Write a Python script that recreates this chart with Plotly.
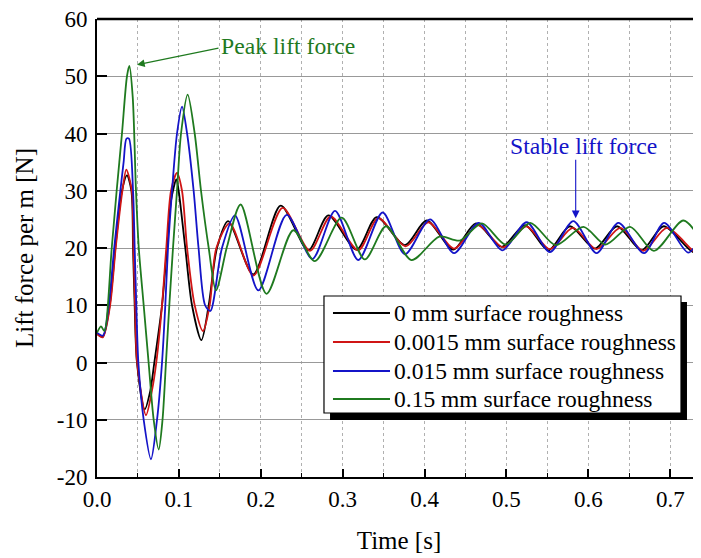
import plotly.graph_objects as go

# ---------------- data ----------------
series_names = ["0 mm surface roughness", "0.0015 mm surface roughness",
                "0.015 mm surface roughness", "0.15 mm surface roughness"]
series_colors = ["#000000", "#d01515", "#1414c8", "#1f7a1f"]

t_0mm = [0.000, 0.007, 0.0155, 0.0224, 0.0305, 0.0366, 0.042, 0.044, 0.046, 0.0488,
         0.0582, 0.065, 0.070, 0.0794, 0.0855, 0.0904, 0.097, 0.0997, 0.1078, 0.116,
         0.1274, 0.1364, 0.1465, 0.160, 0.1909, 0.2243, 0.258, 0.2824, 0.317, 0.3415,
         0.376, 0.4025, 0.435, 0.4627, 0.494, 0.5226, 0.551, 0.5775, 0.608, 0.635,
         0.665, 0.692, 0.728, 0.74]
f_0mm = [5.0, 4.5, 10, 20, 30, 32.7, 30, 20, 10, 0,
         -8.2, -5, 0, 10, 20, 28.3, 32.0, 30, 20, 10,
         3.9, 10, 20, 24.7, 15.4, 27.4, 19.6, 25.7, 19.7, 25.4,
         20.5, 24.8, 19.7, 24.3, 20.2, 24.0, 19.6, 23.8, 19.9, 23.8,
         19.6, 23.8, 19.3, 20.0]

t_00015mm = [0.000, 0.007, 0.016, 0.0228, 0.031, 0.0358, 0.0425, 0.0445, 0.0465, 0.049,
             0.0598, 0.067, 0.0724, 0.0794, 0.0846, 0.0904, 0.0977, 0.1038, 0.110, 0.1193,
             0.1294, 0.1376, 0.1457, 0.162, 0.191, 0.2267, 0.260, 0.2853, 0.319, 0.3435,
             0.377, 0.4045, 0.436, 0.465, 0.496, 0.524, 0.553, 0.581, 0.610, 0.639,
             0.667, 0.696, 0.732, 0.74]
f_00015mm = [5.0, 4.4, 10, 20, 30, 33.7, 30, 20, 10, 0,
             -9.2, -5, 0, 10, 20, 30, 33.1, 30, 20, 10,
             5.5, 10, 20, 24.3, 15.2, 27.0, 19.5, 25.5, 19.6, 25.2,
             20.3, 24.5, 19.9, 24.0, 20.1, 23.8, 19.8, 23.5, 19.8, 23.5,
             19.5, 23.5, 19.1, 19.4]

t_0015mm = [0.000, 0.0073, 0.0143, 0.021, 0.0285, 0.0325, 0.036, 0.039, 0.044, 0.046,
            0.048, 0.0505, 0.057, 0.0659, 0.0733, 0.0794, 0.0834, 0.0867, 0.0916, 0.0977,
            0.1038, 0.110, 0.118, 0.124, 0.132, 0.1384, 0.1526, 0.1685, 0.197, 0.2316,
            0.263, 0.2906, 0.319, 0.3488, 0.376, 0.4066, 0.436, 0.466, 0.495, 0.5246,
            0.553, 0.5816, 0.610, 0.6366, 0.668, 0.6925, 0.722, 0.74]
f_0015mm = [5.2, 4.7, 10, 20, 30, 35, 39.1, 39.1, 30, 20,
            10, 0, -10, -16.9, -10, 0, 10, 20, 30, 40,
            44.7, 40, 30, 20, 10, 9.0, 20, 25.7, 12.6, 25.8,
            18.1, 26.5, 17.9, 26.2, 18.9, 25.0, 19.1, 24.4, 19.6, 24.5,
            19.3, 24.7, 19.1, 24.4, 19.1, 24.4, 19.2, 22.8]

t_015mm = [0.000, 0.005, 0.009, 0.018, 0.024, 0.0305, 0.0366, 0.0395, 0.0436, 0.0476,
           0.051, 0.057, 0.063, 0.0692, 0.0753, 0.080, 0.0842, 0.0883, 0.0928, 0.0977,
           0.1026, 0.1107, 0.1193, 0.127, 0.1364, 0.1453, 0.1587, 0.1754, 0.207, 0.2397,
           0.266, 0.2988, 0.327, 0.353, 0.384, 0.418, 0.443, 0.470, 0.499, 0.529,
           0.560, 0.594, 0.621, 0.651, 0.680, 0.716, 0.74]
f_015mm = [5.2, 6.3, 5.5, 20, 30, 40, 50, 51.8, 46.4, 30,
           20, 10, 0, -10, -15.2, -10, 0, 10, 20, 30,
           40, 46.8, 40, 30, 20, 12.6, 20.2, 27.6, 12.0, 23.1,
           17.7, 25.3, 18.0, 23.8, 17.9, 22.0, 21.3, 24.3, 20.6, 24.4,
           20.5, 23.7, 20.6, 23.7, 19.5, 24.8, 20.8]

x_tick_vals = [0.0, 0.1, 0.2, 0.3, 0.4, 0.5, 0.6, 0.7]
x_tick_text = ["0.0", "0.1", "0.2", "0.3", "0.4", "0.5", "0.6", "0.7"]
y_tick_vals = [-20, -10, 0, 10, 20, 30, 40, 50, 60]
y_tick_text = ["-20", "-10", "0", "10", "20", "30", "40", "50", "60"]

peak_point = (0.0488, 52.0)
stable_point = (0.5845, 25.2)

# ---------------- figure ----------------
# (the page body adds an 8 px offset, so the figure is 8 px smaller on each axis)
FONT = "Liberation Serif, Times New Roman, serif"
fig = go.Figure()
all_t = [t_0mm, t_00015mm, t_0015mm, t_015mm]
all_f = [f_0mm, f_00015mm, f_0015mm, f_015mm]
for name, col, tt, ff in zip(series_names, series_colors, all_t, all_f):
    fig.add_trace(go.Scatter(x=tt, y=ff, mode="lines", name=name, showlegend=False,
                             line=dict(color=col, width=1.8, shape="spline", smoothing=0.8)))

fig.update_layout(
    width=693, height=550,
    margin=dict(l=89, r=0, t=11, b=81, autoexpand=False),
    paper_bgcolor="white", plot_bgcolor="white",
    font=dict(family=FONT, size=23, color="black"),
    showlegend=False,
    xaxis=dict(range=[0, 0.7375], tickvals=x_tick_vals, ticktext=x_tick_text,
               showgrid=False, zeroline=False, automargin=False,
               ticklabeloverflow="allow",
               showline=True, linecolor="black", linewidth=2,
               ticks="inside", ticklen=8, tickwidth=1.5, tickcolor="black",
               ticklabelstandoff=0,
               minor=dict(dtick=0.05, tick0=0, ticks="inside", ticklen=4, tickwidth=1.2,
                          tickcolor="black", showgrid=True, gridcolor="#b0b0b0",
                          griddash="dot", gridwidth=1),
               title=dict(text="Time [s]", font=dict(family=FONT, size=25), standoff=21)),
    yaxis=dict(range=[-20, 60], tickvals=y_tick_vals, ticktext=y_tick_text,
               showgrid=True, gridcolor="#999999", gridwidth=1.2, zeroline=False,
               automargin=False, ticklabeloverflow="allow",
               showline=True, linecolor="black", linewidth=2,
               ticks="inside", ticklen=10, tickwidth=1.5, tickcolor="black",
               ticklabelstandoff=3,
               title=dict(text="Lift force per m [N]", font=dict(family=FONT, size=25), standoff=16)),
)

# top frame line
fig.add_shape(type="line", xref="paper", yref="paper", x0=0, x1=1, y0=1, y1=1,
              line=dict(color="black", width=2.5))

# ---- legend box (drawn with shadow, as in the reference) ----
legend_rows_y = [0.3581, 0.2948, 0.2314, 0.1703]
fig.add_shape(type="rect", xref="paper", yref="paper", x0=0.3858, x1=0.9768, y0=0.1245, y1=0.3821,
              fillcolor="black", line=dict(width=0), layer="above")
fig.add_shape(type="rect", xref="paper", yref="paper", x0=0.3758, x1=0.9669, y0=0.1397, y1=0.3952,
              fillcolor="white", line=dict(color="black", width=1.2), layer="above")
for name, col, ry in zip(series_names, series_colors, legend_rows_y):
    fig.add_shape(type="line", xref="paper", yref="paper", x0=0.3907, x1=0.4851, y0=ry, y1=ry,
                  line=dict(color=col, width=1.8), layer="above")
    fig.add_annotation(xref="paper", yref="paper", x=0.4884, y=ry, text=name,
                       xanchor="left", yanchor="middle", showarrow=False,
                       font=dict(family=FONT, size=23.5, color="black"))

# annotations
fig.add_annotation(x=peak_point[0], y=peak_point[1], text="", showarrow=True,
                   ax=83, ay=-17, arrowhead=2, arrowsize=1.4, arrowwidth=1.1,
                   arrowcolor="#1f7a1f")
fig.add_annotation(x=0.2332, y=55.2, text="Peak lift force", showarrow=False,
                   font=dict(family=FONT, size=23.7, color="#1f7a1f"))
fig.add_annotation(x=stable_point[0], y=stable_point[1], text="", showarrow=True,
                   ax=0, ay=-60, arrowhead=2, arrowsize=1.4, arrowwidth=1.1,
                   arrowcolor="#1414c8")
fig.add_annotation(x=0.5946, y=37.9, text="Stable lift force", showarrow=False,
                   font=dict(family=FONT, size=23.7, color="#1414c8"))

fig.write_html("out.html")
